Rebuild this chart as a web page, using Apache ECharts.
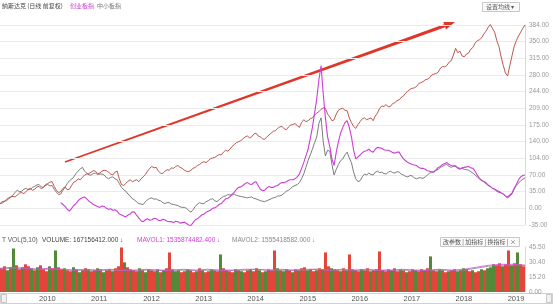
<!DOCTYPE html>
<html><head><meta charset="utf-8">
<script src="https://cdn.jsdelivr.net/npm/echarts@6/dist/echarts.min.js"></script>
<style>html,body{margin:0;padding:0;background:#fff}#c{width:554px;height:306px}</style>
</head><body><div id="c"></div>
<script>
// ---- data (half-month samples, from 2009-04-01 to 2019-05-01) ----
const startYear = 2009, startMonth = 4, pointCount = 243;
const nasdaq = [
  10,14, 15,16, 20,24, 25,24, 28,32, 33,31, 35,40, 42,38, 40,45, 46,41,
  44,50, 52,55, 56,46, 38,33, 35,42, 45,39, 40,48, 55,57, 62,60, 65,70,
  72,73, 76,79, 78,73, 74,78, 80,79, 76,72, 70,76, 78,62, 50,48, 52,57,
  60,56, 58,60, 56,62, 66,71, 78,84, 88,85, 86,78, 74,73, 78,81, 80,85,
  84,88, 90,86, 84,80, 78,77, 80,84, 86,90, 92,96, 98,96, 100,104, 106,107,
  110,113, 112,118, 122,120, 124,130, 134,138, 140,142, 146,150, 152,148, 150,156, 158,152,
  150,146, 145,150, 154,158, 162,163, 168,171, 172,167, 165,171, 175,176, 178,174, 170,180,
  186,182, 184,188, 190,196, 200,203, 208,211, 210,198, 192,184, 186,198, 206,209, 210,206,
  205,190, 180,172, 168,176, 182,188, 190,186, 188,190, 184,194, 200,210, 215,214, 218,213,
  214,220, 222,226, 228,233, 236,242, 246,250, 252,253, 256,262, 264,266, 270,271, 274,280,
  282,283, 286,294, 298,297, 300,307, 310,322, 336,327, 330,320, 318,324, 326,334, 338,347,
  352,354, 358,366, 372,380, 386,378, 370,352, 340,318, 300,284, 278,300, 320,340, 352,362,
  370,378, 385];
const chinext = [
  null,null,null,null,null,null,null,null,null,null,null,null,null,null,
  null,null,null,null,null,null,null,null,null,null,null,null,null,null,
  12,8, 4,-2, -6,0, 6,10, 16,20, 22,24,
  20,15, 12,8, 6,4, 2,5, 4,0, -2,-1, -4,-3, -6,-12, -14,-16, -18,-14,
  -12,-7, -8,-15, -20,-26, -28,-24, -22,-25, -24,-21, -22,-25, -26,-23, -24,-27, -28,-28,
  -30,-27, -28,-31, -30,-29, -32,-35, -36,-30, -24,-22, -18,-14, -12,-8, -6,-4, 0,1,
  4,8, 10,15, 20,21, 24,30, 34,40, 44,45, 48,52, 54,51, 50,54, 56,48,
  40,37, 38,43, 46,44, 44,47, 48,52, 54,54, 56,59, 60,60, 62,66, 72,84,
  96,110, 124,146, 170,200, 230,270, 300,240, 190,150, 130,104, 90,118, 140,158, 170,180,
  184,170, 150,122, 104,108, 112,117, 120,121, 124,120, 118,124, 128,127, 126,123, 122,122,
  120,117, 116,118, 118,110, 104,100, 96,94, 92,91, 90,86, 84,84, 82,79, 78,77,
  76,81, 86,88, 92,94, 96,92, 90,89, 88,84, 82,85, 86,87, 88,85, 84,78,
  70,63, 58,57, 54,49, 46,42, 40,36, 34,32, 30,26, 24,28, 32,42, 50,60,
  66,69, 70];
const sme = [
  10,11, 14,19, 22,24, 28,34, 38,35, 36,40, 42,39, 40,44, 46,49, 50,45,
  44,48, 50,47, 48,40, 34,29, 30,38, 44,52, 58,61, 66,73, 78,83, 86,78,
  74,70, 70,73, 74,71, 72,72, 70,65, 62,65, 66,62, 60,52, 44,39, 36,30,
  26,20, 18,13, 10,9, 8,14, 18,21, 22,19, 20,17, 16,12, 10,12, 12,9,
  8,7, 6,3, 2,2, 0,-5, -8,-3, 4,9, 12,10, 10,14, 16,19, 20,16,
  14,18, 22,25, 26,29, 28,28, 30,27, 26,25, 24,23, 22,23, 24,21, 20,18,
  16,15, 14,16, 18,20, 22,23, 26,26, 28,32, 36,38, 42,46, 48,50, 54,62,
  72,86, 100,112, 124,138, 150,178, 190,140, 110,122, 120,92, 70,82, 92,100, 104,112,
  118,106, 96,76, 62,56, 58,66, 72,70, 74,71, 70,76, 78,75, 76,73, 72,76,
  78,75, 74,77, 76,72, 70,67, 66,69, 68,64, 62,64, 64,63, 66,70, 74,75,
  78,80, 82,86, 88,91, 92,88, 86,89, 90,86, 84,84, 82,81, 80,77, 74,70,
  66,62, 60,55, 52,48, 46,42, 40,38, 36,33, 30,25, 22,25, 30,40, 48,53,
  58,61, 64];
const yTickLabels = ['-35.00','0.00','35.00','70.00','104.00','140.00','175.00','209.00','244.00','280.00','315.00','350.00','384.00'];
const volume = [
  24,26,22,25,44,27,23,25,28,26, 24,22,25,27,23,21,26,24,42,25, 23,24,22,21,25,23,20,22,24,23,
  21,22,24,23,20,22,23,21,24,26, 45,30,25,23,22,21,24,22,20,23, 22,21,23,20,22,24,40,23,21,22,
  20,21,23,22,20,21,24,22,20,21, 23,22,21,38,24,22,21,20,23,22, 21,20,22,23,21,24,22,20,21,23,
  22,42,24,22,21,23,22,20,23,22, 24,25,22,23,21,22,24,23,40,26, 24,23,22,21,24,22,38,23,22,21,
  23,22,24,21,22,23,41,22,21,23, 22,24,21,23,22,20,21,23,22,21, 23,22,24,36,22,21,23,22,20,21,
  22,23,21,22,24,23,21,22,20,21, 23,22,24,25,28,27,29,26,28,42, 27,29,40,28,26];
const volumeDir = 'rrgrgrrgrrgrgrrrgrgrrgrrg' + 'rgrrgrrgrgrrgrrrgrgrrgrgr' + 'rrgrgrrgggrrgrrgrgrrgrrgr' +
  'grrgrgrrgrrgrgrrrgrgrrgrg' + 'rrgrrgrgrrgrrgrgrgrrgrrgr' + 'grgrrgrrgrgrrgrrgrgrrgrrg' + 'rrgrgrrgrrgrgggrrgrrgrgrr';
const volMa1 = [24,25,24,23,24,23,22,23,22,23, 22,22,23,22,22,23,22,23,22,22, 23,23,22,23,22,23,23,22,23,22,
  23,22,22,23,22,22,23,22,23,25, 27,28,28,27];
const volMa2 = [23,24,24,23,23,23,22,22,22,22, 22,22,22,22,22,22,22,22,22,22, 22,23,22,22,22,22,23,22,22,22,
  22,22,22,22,22,22,22,22,22,24, 26,27,27,27];
const volTicks = [0, 15.2, 30.4, 45.5];

// ---- derived category labels (half-month dates) ----
const dates = [];
for (let i = 0; i < pointCount; i++) {
  const m = startMonth - 1 + Math.floor(i / 2);
  const y = startYear + Math.floor(m / 12);
  const mm = (m % 12) + 1;
  dates.push(y + '-' + (mm < 10 ? '0' + mm : mm) + (i % 2 ? '-16' : '-01'));
}
const volIdx = volume.map((_, i) => i);
const maIdx = volMa1.map((_, i) => i);

const CJK = '"Noto Sans CJK SC", "Noto Sans", sans-serif';
const chart = echarts.init(document.getElementById('c'), null, {renderer: 'canvas'});

// arrow geometry (annotation)
const ax0 = 65, ay0 = 162, ax1 = 455, ay1 = 22;
const dl = Math.hypot(ax1 - ax0, ay1 - ay0), ux = (ax1 - ax0) / dl, uy = (ay1 - ay0) / dl;
const px = -uy, py = ux;
const hb = 11;
const bx = ax1 - ux * hb, by = ay1 - uy * hb;

chart.setOption({
  animation: false,
  backgroundColor: '#fff',
  grid: [
    {left: 0, right: 29, top: 25, bottom: 81},
    {left: 0, right: 29, top: 247, bottom: 14}
  ],
  xAxis: [
    {gridIndex: 0, type: 'category', data: dates, boundaryGap: false, show: false},
    {gridIndex: 1, type: 'category', data: volIdx, show: false},
    {gridIndex: 1, type: 'category', data: maIdx, boundaryGap: false, show: false},
    {gridIndex: 1, type: 'category', data: dates, boundaryGap: false, position: 'bottom',
      axisLine: {show: false}, axisTick: {show: false}, splitLine: {show: false},
      axisLabel: {show: true, margin: 3, fontSize: 7.5, color: '#555', fontFamily: 'Arial, sans-serif', align: 'left',
        interval: (idx, val) => val.slice(5) === '01-01',
        formatter: v => v.slice(0, 4)}}
  ],
  yAxis: [
    {gridIndex: 0, type: 'value', position: 'right', min: -35, max: 385, interval: 35,
      axisLine: {show: true, lineStyle: {color: '#d9d9d9'}}, axisTick: {show: false},
      splitLine: {show: true, lineStyle: {color: '#ebebeb', width: 1}},
      axisLabel: {margin: 4, fontSize: 6.5, color: '#999', fontFamily: 'Arial, sans-serif',
        formatter: v => yTickLabels[Math.round((v + 35) / 35)]}},
    {gridIndex: 1, type: 'value', position: 'right', min: 0, max: 45.5,
      axisLine: {show: true, lineStyle: {color: '#d9d9d9'}}, axisTick: {show: false},
      splitLine: {show: false},
      axisLabel: {margin: 4, fontSize: 6.5, color: '#999', fontFamily: 'Arial, sans-serif',
        customValues: volTicks, formatter: v => v.toFixed(2)}}
  ],
  series: [
    {name: '中小板指', type: 'line', xAxisIndex: 0, yAxisIndex: 0, data: sme, symbol: 'none', clip: false,
      lineStyle: {color: '#6e6e6e', width: 0.9}},
    {name: '纳斯达克', type: 'line', xAxisIndex: 0, yAxisIndex: 0, data: nasdaq, symbol: 'none', clip: false,
      lineStyle: {color: '#b8443c', width: 0.9}},
    {name: '创业板指', type: 'line', xAxisIndex: 0, yAxisIndex: 0, data: chinext, symbol: 'none', clip: false,
      lineStyle: {color: '#cc3fd6', width: 1.1}},
    {name: 'VOLUME', type: 'bar', xAxisIndex: 1, yAxisIndex: 1, data: volume, barCategoryGap: '0%',
      itemStyle: {color: p => volumeDir[p.dataIndex] === 'g' ? '#55893a' : '#e4453a'}},
    {name: 'MAVOL2', type: 'line', xAxisIndex: 2, yAxisIndex: 1, data: volMa2, symbol: 'none',
      lineStyle: {color: '#888', width: 0.8}},
    {name: 'MAVOL1', type: 'line', xAxisIndex: 2, yAxisIndex: 1, data: volMa1, symbol: 'none',
      lineStyle: {color: '#d34bd8', width: 0.8}}
  ],
  graphic: [
    {type: 'text', left: 2, top: 3, style: {text: '纳斯达克 (日线 前复权)', font: '6px ' + CJK, fill: '#444'}},
    {type: 'text', left: 70, top: 3, style: {text: '创业板指', font: '6px ' + CJK, fill: '#d23fd8'}},
    {type: 'text', left: 97, top: 3, style: {text: '中小板指', font: '6px ' + CJK, fill: '#777'}},
    {type: 'rect', shape: {x: 482.5, y: 2.5, width: 37, height: 9}, style: {fill: '#fafafa', stroke: '#c8c8c8', lineWidth: 1}},
    {type: 'text', left: 486, top: 4, style: {text: '设置均线 ▾', font: '6px ' + CJK, fill: '#555'}},
    {type: 'polygon', shape: {points: [
      [ax0 + px * 0.7, ay0 + py * 0.7], [bx + px * 1.6, by + py * 1.6],
      [bx - px * 1.6, by - py * 1.6], [ax0 - px * 0.7, ay0 - py * 0.7]]},
      style: {fill: '#e0362a'}},
    {type: 'polygon', shape: {points: [[ax1, ay1], [bx + px * 4, by + py * 4], [bx - px * 4, by - py * 4]]},
      style: {fill: '#e0362a'}},
    {type: 'text', left: 2, top: 237, style: {text: 'T VOL(5,10)', font: '6.5px Arial, sans-serif', fill: '#555'}},
    {type: 'text', left: 42, top: 237, style: {text: 'VOLUME: 167156412.000 ↓', font: '6.5px Arial, sans-serif', fill: '#444'}},
    {type: 'text', left: 137, top: 237, style: {text: 'MAVOL1: 1535874482.400 ↓', font: '6.5px Arial, sans-serif', fill: '#d040d8'}},
    {type: 'text', left: 232, top: 237, style: {text: 'MAVOL2: 1555418582.000 ↓', font: '6.5px Arial, sans-serif', fill: '#888'}},
    {type: 'rect', shape: {x: 440.5, y: 237.5, width: 79, height: 9}, style: {fill: '#fafafa', stroke: '#c8c8c8', lineWidth: 1}},
    {type: 'text', left: 443, top: 239, style: {text: '改参数 | 加指标 | 换指标 | ×', font: '6px ' + CJK, fill: '#555'}},
    {type: 'rect', shape: {x: 0.5, y: 293.5, width: 552, height: 10}, style: {fill: 'none', stroke: '#d0d0d0', lineWidth: 1}},
    {type: 'rect', shape: {x: 1.5, y: 294.5, width: 5, height: 8}, style: {fill: '#f2f2f2', stroke: '#c8c8c8', lineWidth: 1}},
    {type: 'rect', shape: {x: 546.5, y: 294.5, width: 5, height: 8}, style: {fill: '#f2f2f2', stroke: '#c8c8c8', lineWidth: 1}}
  ]
});
</script></body></html>
